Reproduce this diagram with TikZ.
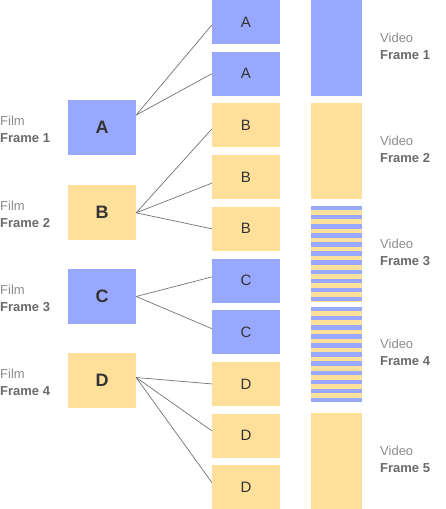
\documentclass[tikz,border=0pt]{standalone}
\usepackage{fontspec}
\setmainfont{Liberation Sans}
\definecolor{frameblue}{HTML}{99A8FF}
\definecolor{frameyellow}{HTML}{FFE09A}
\definecolor{lettergray}{HTML}{333333}
\definecolor{lightgray}{HTML}{8C8C8C}
\definecolor{darkgray}{HTML}{6A6A6A}

\tikzstyle{film frame}=[rectangle,minimum width=68pt,minimum height=55pt,inner sep=0pt,text=lettergray,font=\fontsize{18}{18}\selectfont\bfseries]
\tikzstyle{field}=[rectangle,minimum width=68pt,minimum height=44pt,inner sep=0pt,text=lettergray,font=\fontsize{15}{15}\selectfont]
\tikzstyle{video frame}=[rectangle,minimum width=51pt,inner sep=0pt]
\tikzstyle{caption}=[anchor=west,align=left,inner sep=0pt,font=\fontsize{13}{17}\selectfont]
\tikzstyle{pulldown}=[draw=black!55,line width=0.7pt]

\begin{document}
\begin{tikzpicture}[x=1pt,y=-1pt]
    \useasboundingbox (0,0) rectangle (445,509);
    % film frames
    \foreach \y/\name/\col in {127.5/A/frameblue, 212.8/B/frameyellow,
                               296.5/C/frameblue, 380.5/D/frameyellow}
        \node[film frame,fill=\col] (\name) at (102,\y) {\name};
    \foreach \y/\name/\n in {129.5/A/1, 214.8/B/2, 298.5/C/3, 382.5/D/4}
        \node[caption] (film\n) at (0,\y)
            {{\color{lightgray}Film}\\{\bfseries\color{darkgray}Frame \n}};
    % fields
    \foreach \y/\name/\lab/\col in {22/a1/A/frameblue, 73.7/a2/A/frameblue,
                                    125.4/b1/B/frameyellow, 177.1/b2/B/frameyellow, 228.8/b3/B/frameyellow,
                                    280.5/c1/C/frameblue, 332.2/c2/C/frameblue,
                                    383.9/d1/D/frameyellow, 435.6/d2/D/frameyellow, 487.3/d3/D/frameyellow}
        \node[field,fill=\col] (\name) at (246,\y) {\lab};
    % video frames
    \foreach \y/\h/\name/\col in {47.85/95.7/v1/frameblue, 151/96/v2/frameyellow,
                                  254/96/v3/frameyellow, 354.5/95/v4/frameyellow,
                                  461/96/v5/frameyellow}
        \node[video frame,minimum height=\h pt,fill=\col] (\name) at (336.5,\y) {};
    \foreach \v in {v3,v4}
        \foreach \k in {0,...,10}
            \fill[frameblue] (\v.north west) ++(0,{9.1*\k}) rectangle ++(51,4.55);
    \foreach \y/\n in {46/1, 149/2, 252/3, 352.5/4, 459/5}
        \node[caption] (video\n) at (380,\y)
            {{\color{lightgray}Video}\\{\bfseries\color{darkgray}Frame \n}};
    % pulldown
    \foreach \source/\dest in {A.20/a1.185, A.20/a2.west, B.east/b1.186, B.east/b2.190, B.east/b3.west,
                               C.east/c1.174, C.east/c2.174, D.5/d1.west, D.5/d2.172, D.5/d3.172}
        \path[pulldown] (\source) -- (\dest);
\end{tikzpicture}
\end{document}
